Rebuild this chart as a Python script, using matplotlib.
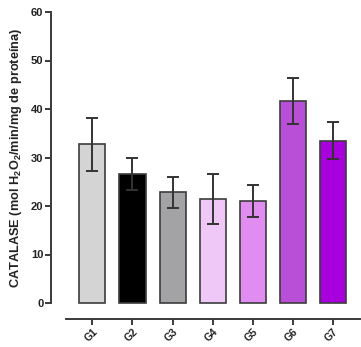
import matplotlib
matplotlib.use("Agg")
import matplotlib.pyplot as plt
import numpy as np

groups = ["G1", "G2", "G3", "G4", "G5", "G6", "G7"]
means = [32.7, 26.6, 22.8, 21.4, 21.1, 41.6, 33.5]
errors = [5.4, 3.4, 3.2, 5.2, 3.3, 4.7, 3.9]
colors = ["#d4d4d4", "#000000", "#a3a3a6", "#f0c8f7", "#e08cf0", "#b94fd6", "#a700dc"]
yticks = [0, 10, 20, 30, 40, 50, 60]

plt.rcParams['font.family'] = ['Liberation Sans', 'DejaVu Sans']
plt.rcParams['mathtext.fontset'] = 'custom'
plt.rcParams['mathtext.bf'] = 'Liberation Sans:bold'
plt.rcParams['mathtext.rm'] = 'Liberation Sans:bold'
plt.rcParams['mathtext.default'] = 'bf'

W, H = 361, 347
fig = plt.figure(figsize=(W / 100, H / 100), dpi=100)
ax = fig.add_axes([51 / W, (H - 303) / H, (360 - 51) / W, (303 - 12) / H])

x = np.arange(len(groups))
axis_col = "#3a3a3a"
ax.bar(x, means, width=0.65, color=colors, edgecolor="#3c3c3c", linewidth=1.2,
       zorder=2, clip_on=False)
ax.errorbar(x, means, yerr=errors, fmt="none", ecolor="#333333", elinewidth=1.4,
            capsize=4, capthick=1.4, zorder=3)

ax.set_xlim(-1.03, 6.67)
ax.set_ylim(0, 60)
ax.set_yticks(yticks)
ax.set_xticks(x)
ax.set_xticklabels(groups)

for s in ["top", "right"]:
    ax.spines[s].set_visible(False)
ax.spines["left"].set_color(axis_col)
ax.spines["left"].set_linewidth(1.4)
ax.spines["bottom"].set_color(axis_col)
ax.spines["bottom"].set_linewidth(1.4)
ax.spines["bottom"].set_position(("outward", 11.5))
ax.spines["bottom"].set_bounds(-0.66, 6.67)

ax.tick_params(axis="y", length=4, width=1.4, color=axis_col, labelsize=8,
               labelcolor="#222222", pad=1.5)
ax.tick_params(axis="x", length=4.5, width=1.4, color=axis_col, labelsize=7.5,
               labelcolor="#222222", pad=1, labelrotation=45)
for lbl in ax.get_yticklabels():
    lbl.set_fontweight("bold")
for lbl in ax.get_xticklabels():
    lbl.set_fontweight("bold")
    lbl.set_rotation(45)
    lbl.set_ha("right")
    lbl.set_rotation_mode("anchor")

ax.set_ylabel(r"CATALASE (mol H$_2$O$_2$/min/mg de proteína)", fontsize=9.2,
              fontweight="bold", color="#222222", labelpad=5)

fig.savefig("out.png", dpi=100)
